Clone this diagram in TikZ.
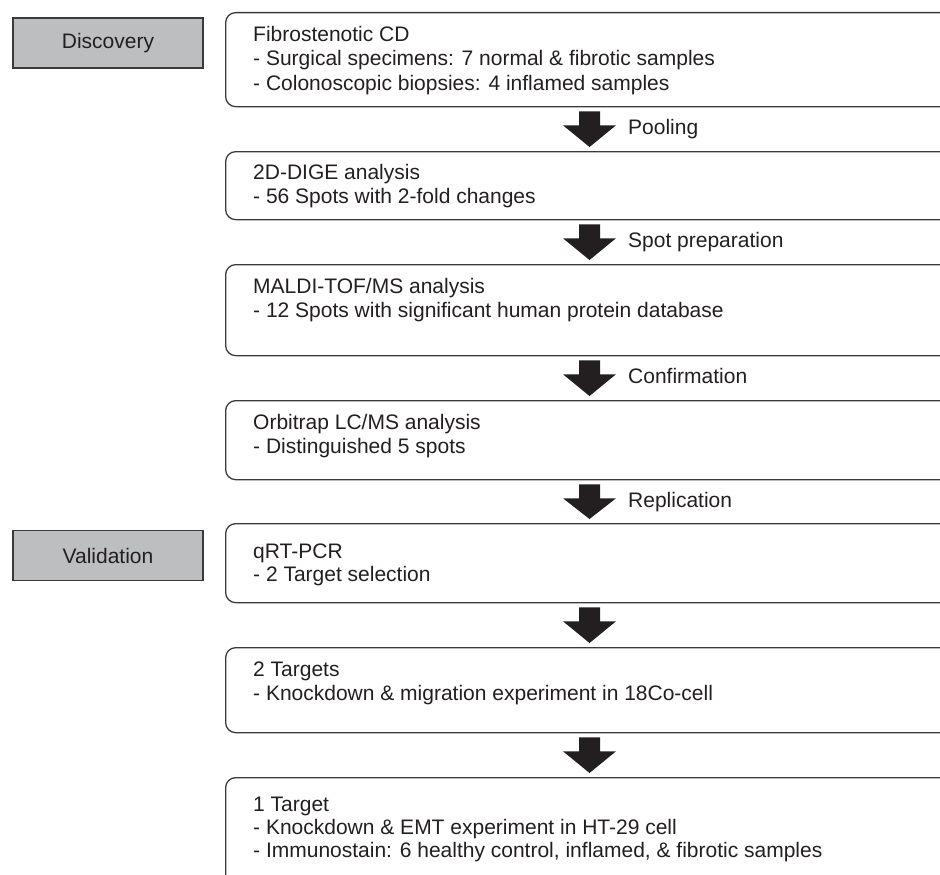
\documentclass[tikz,border=0pt]{standalone}
\usepackage{fontspec}
\setmainfont{Liberation Sans}
\usetikzlibrary{calc}
\definecolor{ink}{HTML}{231F20}
\definecolor{edge}{HTML}{3A3A3A}
\definecolor{phase}{HTML}{BDBEC0}
\newcommand{\fatarrow}[2]{%
  \fill[ink] ($(#1.south west)+(354,4)$) -- ($(#1.south west)+(375,4)$)
    -- ($(#1.south west)+(375,18)$) -- ($(#1.south west)+(391,18)$)
    -- ($(#2.north west)+(364.5,-4)$) -- ($(#1.south west)+(338,18)$)
    -- ($(#1.south west)+(354,18)$) -- cycle;}
\begin{document}
\begin{tikzpicture}[x=1pt,y=-1pt,
  font=\fontsize{21}{24}\selectfont,
  flowbox/.style={draw=edge, line width=1.3pt, rounded corners=10pt,
    anchor=north west, inner sep=0pt, minimum width=740pt},
  phasebox/.style={draw=edge, line width=1.3pt, fill=phase, text=ink,
    minimum width=190pt, minimum height=50pt, inner sep=0pt},
  txt/.style={anchor=base west, inner sep=0pt, text=ink},
]
\useasboundingbox (0,0) rectangle (940,875);
\clip (0,0) rectangle (940,875);

\node[phasebox] (disc) at (108,43) {Discovery};
\node[phasebox] (valid) at (108,555.5) {Validation};

\node[flowbox, minimum height=94pt] (b1) at (225,12) {};
\node[flowbox, minimum height=68pt] (b2) at (225,151) {};
\node[flowbox, minimum height=91pt] (b3) at (225,264) {};
\node[flowbox, minimum height=79pt] (b4) at (225,400) {};
\node[flowbox, minimum height=79pt] (b5) at (225,523) {};
\node[flowbox, minimum height=85pt] (b6) at (225,647) {};
\node[flowbox, minimum height=130pt] (b7) at (225,777) {};

\node[txt] (t11) at (253,42) {Fibrostenotic CD};
\node[txt] (t12) at (253,66) {- Surgical specimens: 7 normal \& fibrotic samples};
\node[txt] (t13) at (253,90) {- Colonoscopic biopsies: 4 inflamed samples};

\node[txt] (t21) at (253,179) {2D-DIGE analysis};
\node[txt] (t22) at (253,203) {- 56 Spots with 2-fold changes};

\node[txt] (t31) at (253,293) {MALDI-TOF/MS analysis};
\node[txt] (t32) at (253,317) {- 12 Spots with significant human protein database};

\node[txt] (t41) at (253,429) {Orbitrap LC/MS analysis};
\node[txt] (t42) at (253,453) {- Distinguished 5 spots};

\node[txt] (t51) at (253,558) {qRT-PCR};
\node[txt] (t52) at (253,581) {- 2 Target selection};

\node[txt] (t61) at (253,676) {2 Targets};
\node[txt] (t62) at (253,700) {- Knockdown \& migration experiment in 18Co-cell};

\node[txt] (t71) at (253,811) {1 Target};
\node[txt] (t72) at (253,834) {- Knockdown \& EMT experiment in HT-29 cell};
\node[txt] (t73) at (253,857) {- Immunostain: 6 healthy control, inflamed, \& fibrotic samples};

\fatarrow{b1}{b2}
\fatarrow{b2}{b3}
\fatarrow{b3}{b4}
\fatarrow{b4}{b5}
\fatarrow{b5}{b6}
\fatarrow{b6}{b7}

\node[txt] (l1) at (628,134.5) {Pooling};
\node[txt] (l2) at (628,247.5) {Spot preparation};
\node[txt] (l3) at (628,383.5) {Confirmation};
\node[txt] (l4) at (628,507.5) {Replication};
\end{tikzpicture}
\end{document}
